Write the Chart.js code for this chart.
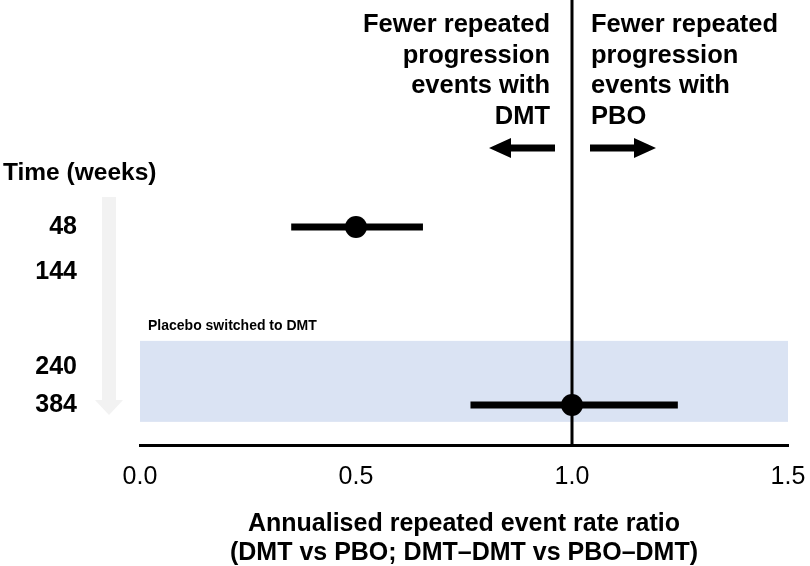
<!DOCTYPE html>
<html>
<head>
<meta charset="utf-8">
<script src="https://cdn.jsdelivr.net/npm/chart.js@4/dist/chart.umd.min.js"></script>
<style>
  body { margin: 0; background: #fff; }
  #wrap { width: 810px; height: 566px; }
</style>
</head>
<body>
<div id="wrap"><canvas id="chart"></canvas></div>
<script>
// data
var weeks = ['48', '144', '240', '384'];
var ratio = [0.50, null, null, 1.00];
var ciLow = [0.35, null, null, 0.765];
var ciHigh = [0.655, null, null, 1.245];
var xTicks = [0, 0.5, 1.0, 1.5];

// layout of the rows on the (reversed) y scale, 0..10
var rowSlot = [5.1, 6.12, 8.24, 9.1];
var band = { from: 7.66, to: 9.48, label: 'Placebo switched to DMT' };

var FONT = '"Liberation Sans", Arial, sans-serif';
Chart.defaults.font.family = FONT;
Chart.defaults.color = '#000';

var datasets = [];
weeks.forEach(function (w, i) {
  if (ratio[i] === null) {
    return;
  }
  datasets.push({
    type: 'scatter',
    data: [{x: ciLow[i], y: rowSlot[i]}, {x: ciHigh[i], y: rowSlot[i]}],
    showLine: true,
    borderColor: '#000',
    borderWidth: 7,
    borderCapStyle: 'butt',
    pointRadius: 0
  });
  datasets.push({
    type: 'scatter',
    data: [{x: ratio[i], y: rowSlot[i]}],
    pointRadius: 11,
    pointHoverRadius: 11,
    backgroundColor: '#000',
    borderWidth: 0
  });
});

var decor = {
  id: 'decor',
  beforeDraw: function (chart) {
    var ctx = chart.ctx;
    ctx.save();
    ctx.fillStyle = '#fff';
    ctx.fillRect(0, 0, chart.width, chart.height);

    // faint "time" arrow down the left side
    ctx.fillStyle = '#f2f2f2';
    ctx.beginPath();
    ctx.moveTo(102, 197);
    ctx.lineTo(116, 197);
    ctx.lineTo(116, 400);
    ctx.lineTo(123, 400);
    ctx.lineTo(109, 415);
    ctx.lineTo(95, 400);
    ctx.lineTo(102, 400);
    ctx.closePath();
    ctx.fill();

    ctx.fillStyle = '#000';
    ctx.font = 'bold 24.5px ' + FONT;
    ctx.textBaseline = 'middle';
    ctx.textAlign = 'left';
    ctx.fillText('Time (weeks)', 3, 173);
    ctx.restore();
  },
  beforeDatasetsDraw: function (chart) {
    var ctx = chart.ctx;
    var area = chart.chartArea;
    var x = chart.scales.x;
    var y = chart.scales.y;
    ctx.save();
    var top = y.getPixelForValue(band.from);
    var bottom = y.getPixelForValue(band.to);
    ctx.fillStyle = '#dae3f3';
    ctx.fillRect(area.left, top, area.right - area.left, bottom - top);

    ctx.fillStyle = '#000';
    ctx.font = 'bold 14px ' + FONT;
    ctx.textBaseline = 'middle';
    ctx.fillText(band.label, area.left + 8, top - 15);

    // line of no effect
    var x1 = x.getPixelForValue(1.0);
    ctx.strokeStyle = '#000';
    ctx.lineWidth = 3;
    ctx.beginPath();
    ctx.moveTo(x1, area.top);
    ctx.lineTo(x1, area.bottom);
    ctx.stroke();
    ctx.restore();
  },
  afterDraw: function (chart) {
    var ctx = chart.ctx;
    var x1 = chart.scales.x.getPixelForValue(1.0);
    var left = ['Fewer repeated', 'progression', 'events with', 'DMT'];
    var right = ['Fewer repeated', 'progression', 'events with', 'PBO'];
    ctx.save();
    ctx.fillStyle = '#000';
    ctx.font = 'bold 25.5px ' + FONT;
    ctx.textBaseline = 'middle';
    for (var i = 0; i < 4; i++) {
      ctx.textAlign = 'right';
      ctx.fillText(left[i], x1 - 22, 25 + i * 30.7);
      ctx.textAlign = 'left';
      ctx.fillText(right[i], x1 + 19, 25 + i * 30.7);
    }
    // arrows
    function arrow(from, to, yy) {
      var dir = to > from ? 1 : -1;
      var headStart = to - dir * 22;
      ctx.beginPath();
      ctx.moveTo(from, yy - 3.5);
      ctx.lineTo(headStart, yy - 3.5);
      ctx.lineTo(headStart, yy - 10);
      ctx.lineTo(to, yy);
      ctx.lineTo(headStart, yy + 10);
      ctx.lineTo(headStart, yy + 3.5);
      ctx.lineTo(from, yy + 3.5);
      ctx.closePath();
      ctx.fill();
    }
    arrow(x1 - 17, x1 - 83, 148);
    arrow(x1 + 18, x1 + 84, 148);
    ctx.restore();
  }
};

new Chart(document.getElementById('chart'), {
  type: 'scatter',
  data: {datasets: datasets},
  options: {
    responsive: true,
    maintainAspectRatio: false,
    animation: false,
    layout: {autoPadding: false, padding: {left: 0, right: 22, top: 0, bottom: 0}},
    plugins: {
      legend: {display: false},
      tooltip: {enabled: false}
    },
    scales: {
      x: {
        type: 'linear',
        min: 0,
        max: 1.5,
        afterBuildTicks: function (scale) {
          scale.ticks = xTicks.map(function (v) { return {value: v}; });
        },
        afterFit: function (scale) {
          scale.height = 121;
          scale.paddingLeft = 0;
          scale.paddingRight = 0;
        },
        ticks: {
          padding: 9,
          font: {size: 25},
          color: '#000',
          callback: function (value) { return Number(value).toFixed(1); }
        },
        grid: {display: false},
        border: {display: true, color: '#000', width: 3},
        title: {
          display: true,
          text: ['Annualised repeated event rate ratio', '(DMT vs PBO; DMT\u2013DMT vs PBO\u2013DMT)'],
          font: {size: 25, weight: 'bold', lineHeight: 1.16},
          color: '#000',
          padding: {top: 0, bottom: -2}
        }
      },
      y: {
        type: 'linear',
        min: 0,
        max: 10,
        reverse: true,
        afterBuildTicks: function (scale) {
          scale.ticks = rowSlot.map(function (v) { return {value: v}; });
        },
        afterFit: function (scale) {
          scale.width = 140;
          scale.paddingTop = 0;
          scale.paddingBottom = 0;
        },
        ticks: {
          padding: 55,
          autoSkip: false,
          font: {size: 25, weight: 'bold'},
          color: '#000',
          callback: function (value, index) { return weeks[index]; }
        },
        grid: {display: false},
        border: {display: false}
      }
    }
  },
  plugins: [decor]
});
</script>
</body>
</html>
